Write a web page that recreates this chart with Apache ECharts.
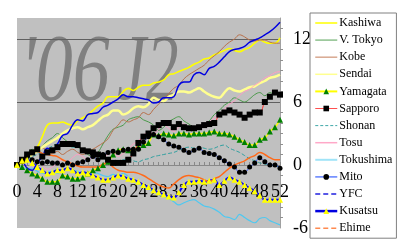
<!DOCTYPE html>
<html><head><meta charset="utf-8">
<script src="https://cdn.jsdelivr.net/npm/echarts@6/dist/echarts.min.js"></script>
<style>html,body{margin:0;padding:0;background:#fff}#c{width:400px;height:250px}</style>
</head><body><div id="c"></div>
<script>
const sections = ['0','1','2','3','4','5','6','7','8','9','10','11','12','13','14','15','16','17','18','19','20','21','22','23','24','25','26','27','28','29','30','31','32','33','34','35','36','37','38','39','40','41','42','43','44','45','46','47','48','49','50','51','52'];
const kashiwa = [0,0.3,0.6,1.2,1.7,2.7,3.8,4.0,4.0,4.1, 3.9,3.8,4.2,4.5,4.8,5.2,5.6,5.9,6.5,6.5, 6.5,7.0,7.3,7.1,7.4,7.6,7.6,7.8,7.9,8.1, 8.6,8.7,8.9,9.1,9.3,9.6,9.8,10.1,10.2,10.5, 10.7,10.9,11.1,10.9,10.8,11.0,11.2,11.6,11.9,11.7, 11.6,11.6,12.1];
const vtokyo = [0,0.5,1.0,1.5,1.2,1.8,2.3,2.6,3.0,2.6, 2.2,1.8,1.7,1.4,1.0,0.8,1.2,2.0,2.8,3.4, 3.6,3.8,4.3,4.5,4.6,4.3,4.1,3.8,3.3,3.6, 4.1,4.4,4.6,4.2,3.9,3.6,3.7,3.9,4.2,4.8, 5.2,5.7,6.0,6.4,6.2,6.0,6.3,6.7,6.9,6.6, 6.9,6.7,6.9];
const kobe = [0,0.3,0.6,1.0,1.3,1.6,1.4,1.1,1.3,1.0, 1.3,1.5,1.2,1.0,1.3,1.5,1.8,2.1,2.5,3.3, 3.8,4.3,4.1,4.3,4.5,5.0,4.8,5.3,5.8,6.3, 6.8,7.3,7.6,8.2,8.6,8.9,9.2,9.5,10.0,10.4, 10.8,11.3,11.7,12.0,12.4,12.2,11.9,11.8,11.9,11.9, 11.7,11.6,11.6];
const sendai = [0,0.3,0.6,1.0,1.3,1.7,2.0,2.3,2.6,3.0, 3.3,3.5,3.6,3.4,3.6,3.8,4.2,4.6,4.8,5.2, 5.2,4.8,5.0,5.4,5.6,5.5,5.8,6.4,6.2,6.1, 6.5,6.7,7.0,7.0,6.9,7.1,7.3,7.0,6.7,6.5, 6.4,6.9,7.3,7.1,7.0,7.2,7.4,7.5,7.8,8.0, 8.3,8.4,8.6];
const yamagata = [0,-0.2,-0.5,-0.8,-1.0,-1.3,-1.6,-1.6,-1.6,-1.0, -1.1,-1.3,-1.3,-1.2,-0.8,-0.5,-0.3,0.0,0.3,1.0, 1.4,1.5,1.4,1.5,1.7,1.9,2.1,2.9,2.8,3.0, 2.9,2.8,3.0,3.0,2.9,3.0,3.0,3.0,3.1,3.2, 3.0,3.0,2.9,2.7,2.4,2.2,1.9,1.9,2.4,2.6, 3.2,3.6,4.3];
const sapporo = [0,0.5,1.0,1.2,1.5,0.8,1.2,1.4,1.7,2.0, 2.0,2.0,1.9,1.4,1.3,1.2,1.0,0.8,0.5,0.2, 0.2,0.2,0.5,1.1,2.1,2.7,3.0,3.5,3.8,4.0, 4.0,3.6,3.9,3.6,3.5,3.5,3.6,3.8,3.9,4.0, 4.8,5.0,5.2,5.0,4.8,4.5,4.8,5.0,5.0,6.0, 6.5,6.9,6.7];
const shonan = [0,0.3,0.5,0.8,1.0,1.2,1.5,1.8,2.0,1.9, 1.8,1.7,1.7,1.5,1.3,1.0,0.8,0.6,0.5,0.4, 0.3,0.5,0.6,0.4,0.3,0.5,0.6,0.8,0.9,1.0, 1.1,1.2,1.4,1.6,1.7,1.6,1.7,1.6,1.5,1.6, 1.8,1.9,1.6,1.4,1.2,0.9,0.6,0.4,0.2,0.1, 0.0,-0.1,-0.2];
const tosu = [0,-0.3,-0.5,-0.2,0.3,0.0,-0.4,-0.2,0.2,0.5, 0.3,0.7,1.0,0.8,0.5,0.8,1.0,0.8,1.0,1.2, 0.8,1.1,1.5,2.0,2.3,2.8,3.2,3.0,3.4,3.8, 3.5,3.2,3.6,3.9,3.5,3.3,3.6,3.9,4.1,4.5, 4.8,5.3,5.8,6.1,6.6,7.0,7.2,7.6,7.9,8.3, 8.5,8.8,8.9];
const tokushima = [0,-0.2,-0.4,-0.3,-0.6,-0.8,-0.7,-0.6,-0.8,-0.6, -0.4,-0.5,-0.6,-0.8,-0.9,-0.7,-0.8,-1.0,-1.1,-0.9, -1.0,-0.8,-1.1,-1.5,-1.8,-2.1,-2.3,-2.5,-2.8,-3.0, -3.2,-3.5,-3.8,-3.6,-3.4,-3.3,-3.6,-3.9,-4.0,-4.2, -4.5,-4.9,-5.0,-5.2,-4.7,-5.0,-5.3,-5.5,-5.1,-5.0, -5.3,-5.5,-5.7];
const mito = [0,0.3,0.8,0.5,0.3,0.2,0.3,0.2,0.2,0.0, 0.2,0.0,0.2,0.3,0.5,0.8,0.5,1.0,1.2,1.3, 1.2,1.4,1.5,1.5,1.5,2.2,2.7,2.9,2.7,2.4, 2.0,1.8,1.7,1.4,1.2,1.4,1.6,1.2,1.1,1.0, 0.7,0.4,0.1,-0.2,-0.7,-0.7,-0.2,0.2,0.7,0.3, 0.0,0.0,-0.3];
const yfc = [0,0.3,-0.3,-0.5,0.2,0.8,1.6,1.4,2.0,2.8, 3.0,3.8,4.3,4.2,4.8,4.9,5.0,5.5,5.7,6.0, 6.3,6.7,6.5,6.5,6.4,6.3,6.2,5.9,6.0,6.4, 6.4,6.5,7.6,7.9,7.9,8.6,8.8,8.6,9.2,9.4, 9.8,10.3,10.8,11.0,11.1,11.3,11.7,11.9,12.1,12.4, 12.7,13.1,13.6];
const kusatsu = [0,0.4,0.5,0.2,-0.2,-0.5,-0.8,-0.7,-0.5,-0.5, -0.3,-0.5,-0.8,-0.7,-0.8,-1.0,-1.2,-1.4,-1.4,-1.2, -1.0,-1.1,-1.3,-1.4,-1.6,-1.9,-2.1,-2.4,-2.6,-2.8, -3.0,-3.1,-2.6,-1.9,-1.6,-1.6,-1.5,-1.6,-1.5,-1.4, -1.9,-1.5,-1.2,-1.4,-1.6,-1.9,-2.2,-2.5,-2.9,-3.3, -3.3,-3.3,-3.3];
const ehime = [0,0.3,0.8,1.2,1.3,1.1,1.0,0.9,0.8,0.5, 0.3,0.1,-0.1,-0.2,-0.2,-0.2,-0.2,0.1,0.2,-0.2, -0.5,-0.6,-0.7,-0.7,-0.8,-1.0,-1.3,-1.6,-1.9,-2.1, -2.2,-1.8,-1.4,-1.1,-1.0,-1.1,-1.2,-1.4,-1.6,-1.3, -1.1,-0.7,-0.3,0.0,0.2,0.4,0.7,0.9,1.2,1.0, 0.7,0.5,0.5];
const yTickLabels = ['-6','0','6','12'];
const watermarkParts = ["'06", "J2"];

const SERIF = '"Liberation Serif", "Times New Roman", serif';
function ln(name, data, color, width, extra) {
  return Object.assign({
    name, type: 'line', data, smooth: 0.4, symbol: 'none', z: 5,
    lineStyle: { color, width },
    itemStyle: { color },
    emphasis: { disabled: true }
  }, extra || {});
}
const series = [
  ln('Kashiwa', kashiwa, '#ffff00', 1.6),
  ln('V. Tokyo', vtokyo, '#4a9a4a', 1),
  ln('Kobe', kobe, '#b8704a', 1),
  ln('Sendai', sendai, '#ffff90', 2.5),
  ln('Yamagata', yamagata, '#ffff00', 1.5, { symbol: 'triangle', symbolSize: 6, showAllSymbol: true, itemStyle: { color: '#008000' } }),
  ln('Sapporo', sapporo, '#ff3030', 1, { symbol: 'rect', symbolSize: 6, showAllSymbol: true, itemStyle: { color: '#000000' } }),
  ln('Shonan', shonan, '#30a0a0', 1, { lineStyle: { color: '#30a0a0', width: 1, type: [4, 2] } }),
  ln('Tosu', tosu, '#ff9ec4', 1),
  ln('Tokushima', tokushima, '#50c8f0', 1.2),
  ln('Mito', mito, '#4060ff', 1, { symbol: 'circle', symbolSize: 5, showAllSymbol: true, itemStyle: { color: '#000000' } }),
  ln('YFC', yfc, '#0000e0', 1.5),
  ln('Kusatsu', kusatsu, '#0000ff', 2, { symbol: 'triangle', symbolSize: 6, showAllSymbol: true, itemStyle: { color: '#ffff00' } }),
  ln('Ehime', ehime, '#ff6a1a', 1.5)
];
const legendLine = {
  'Kashiwa': { color: '#ffff00', width: 1.5 },
  'V. Tokyo': { color: '#8cc08c', width: 1.5 },
  'Kobe': { color: '#d8a890', width: 1.5 },
  'Sendai': { color: '#ffff90', width: 1.5 },
  'Yamagata': { color: '#ffff00', width: 2 },
  'Sapporo': { color: '#ff5050', width: 1 },
  'Shonan': { color: '#40a8a8', width: 1, type: [3, 2] },
  'Tosu': { color: '#ffa8c8', width: 1.5 },
  'Tokushima': { color: '#a0e4f8', width: 2 },
  'Mito': { color: '#6080ff', width: 1.5 },
  'YFC': { color: '#2020e0', width: 1.5, type: [5, 3] },
  'Kusatsu': { color: '#0000e0', width: 2.5 },
  'Ehime': { color: '#ff8a50', width: 1.5, type: [5, 3] }
};
const withSymbol = ['Yamagata', 'Sapporo', 'Mito', 'Kusatsu'];
const legendData = series.map(s => {
  const d = { name: s.name, lineStyle: legendLine[s.name] };
  if (withSymbol.indexOf(s.name) < 0) d.itemStyle = { opacity: 0 };
  return d;
});

const chart = echarts.init(document.getElementById('c'), null, { renderer: 'canvas' });
chart.setOption({
  animation: false,
  backgroundColor: '#ffffff',
  grid: { left: 17, right: 120, top: 18, bottom: 22, show: true, backgroundColor: '#c0c0c0', borderWidth: 0,
    containLabel: false, outerBoundsMode: 'none' },
  graphic: [
    { type: 'text', x: 20, y: 28, z: 1, scaleY: 1.28,
      style: { text: watermarkParts[0], font: 'italic 74px ' + SERIF, fill: '#808080', textVerticalAlign: 'top' } },
    { type: 'text', x: 117, y: 28, z: 1, scaleY: 1.28, scaleX: 0.88,
      style: { text: watermarkParts[1], font: 'italic 74px ' + SERIF, fill: '#808080', textVerticalAlign: 'top' } }
  ],
  legend: {
    orient: 'vertical', left: 310, top: 13, width: 84,
    padding: [4, 4, 4, 4], itemWidth: 22, itemHeight: 7, itemGap: 5.1,
    borderColor: '#808080', borderWidth: 1, backgroundColor: '#ffffff',
    textStyle: { fontFamily: SERIF, fontSize: 12, color: '#000', lineHeight: 12, height: 12, padding: [0, 0, 0, -3] },
    data: legendData
  },
  xAxis: {
    type: 'category', data: sections, boundaryGap: false, z: 3,
    position: 'bottom', offset: -63,
    axisLine: { onZero: false, lineStyle: { color: '#888888', width: 1 } },
    axisTick: { show: true, interval: 0, inside: true, length: 3, lineStyle: { color: '#888888' } },
    axisLabel: { interval: 3, fontFamily: SERIF, fontSize: 18, color: '#000', margin: 18 },
    splitLine: { show: false }
  },
  yAxis: {
    type: 'value', position: 'right', min: -6, max: 14, interval: 6, z: 3,
    axisLine: { show: true, lineStyle: { color: '#a0a0a0' } },
    axisTick: { show: false },
    minorTick: { show: true, splitNumber: 6, length: 3, lineStyle: { color: '#909090' } },
    axisLabel: { fontFamily: SERIF, fontSize: 18, color: '#000', margin: 13, showMaxLabel: false,
      formatter: v => yTickLabels.indexOf(String(v)) >= 0 ? String(v) : '' },
    splitLine: { show: true, lineStyle: { color: ['rgba(0,0,0,0)', 'rgba(0,0,0,0)', '#606060', '#606060', 'rgba(0,0,0,0)'], width: 1 } }
  },
  series
});
</script></body></html>
